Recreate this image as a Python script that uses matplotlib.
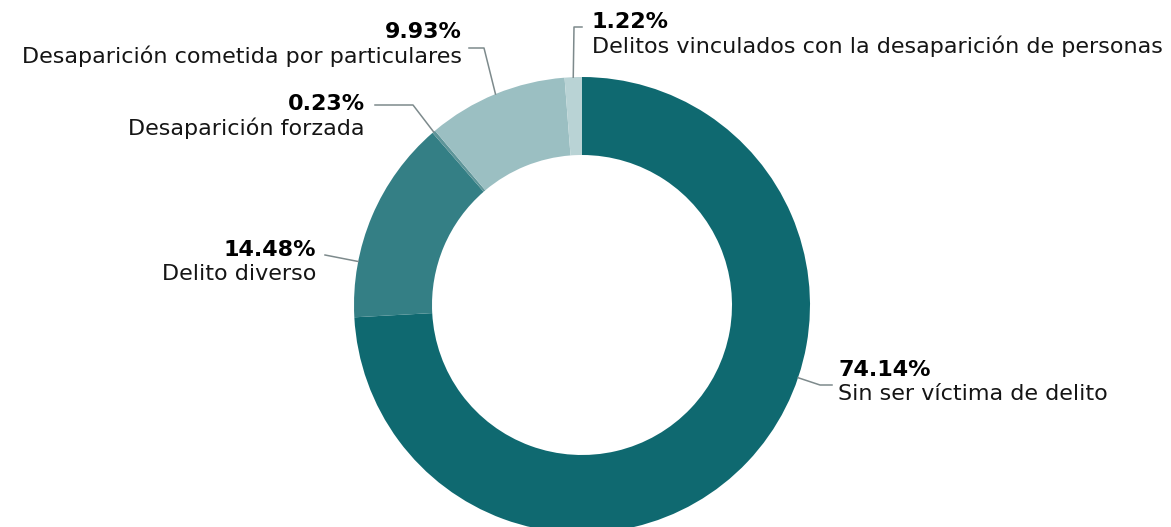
import numpy as np
import matplotlib.pyplot as plt

categories = [
    'Sin ser víctima de delito',
    'Delito diverso',
    'Desaparición forzada',
    'Desaparición cometida por particulares',
    'Delitos vinculados con la desaparición de personas',
]
shares = [74.14, 14.48, 0.23, 9.93, 1.22]
colors = ['#0f6970', '#347f85', '#5e9599', '#9bbfc2', '#b9d3d5']

# label layout in pixels (image coords, y down)
label_xy = [(838, 370), (316, 250), (365, 104), (462, 32), (592, 22)]
label_ha = ['left', 'right', 'right', 'right', 'left']
anchor_deg = [-18.6, 169.0, 130.6, 112.3, 92.2]
elbow_xy = [(820, 385), (325, 255), (413, 105), (484, 48), (574, 27)]
end_xy = [(832, 385), (325, 255), (375, 105), (469, 48), (582, 27)]

W, H = 1171, 527
cx, cy, r_out, r_in = 582, 305, 228, 150

fig = plt.figure(figsize=(W / 100, H / 100), dpi=100)
ax = fig.add_axes([0, 0, 1, 1])
ax.axis('off')

ax.pie(shares, colors=colors, startangle=90, counterclock=False,
       center=(cx, H - cy), radius=r_out,
       wedgeprops=dict(width=r_out - r_in, linewidth=0))
ax.set_xlim(0, W)
ax.set_ylim(0, H)
ax.set_aspect('equal')

for i, (cat, val) in enumerate(zip(categories, shares)):
    a = np.deg2rad(anchor_deg[i])
    px, py = cx + r_out * np.cos(a), cy - r_out * np.sin(a)
    xs = [px, elbow_xy[i][0], end_xy[i][0]]
    ys = [H - py, H - elbow_xy[i][1], H - end_xy[i][1]]
    ax.plot(xs, ys, color='#7d8a8c', lw=1.1)
    lx, ly = label_xy[i]
    ax.text(lx, H - ly, f'{val:.2f}%', ha=label_ha[i], va='center',
            fontsize=16, fontweight='bold', family='DejaVu Sans', color='black')
    ax.text(lx, H - ly - 24, cat, ha=label_ha[i], va='center',
            fontsize=16, family='DejaVu Sans', color='#151515')

fig.savefig('out.png', dpi=100)
